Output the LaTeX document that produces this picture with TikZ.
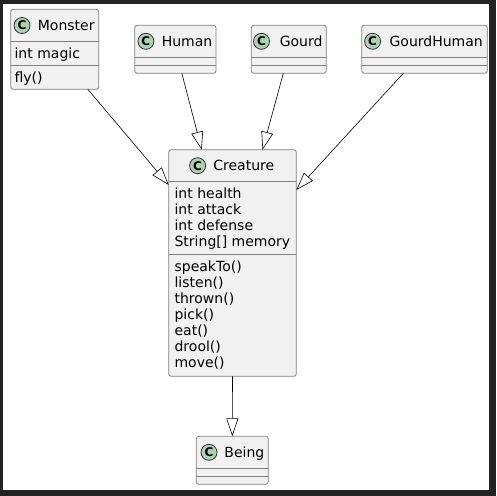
\documentclass[tikz,border=0pt]{standalone}
\usepackage{fontspec}
\setmainfont{DejaVu Sans}
\usetikzlibrary{arrows.meta,calc}
\definecolor{frame}{HTML}{222222}
\definecolor{boxfill}{HTML}{F1F1F1}
\definecolor{boxline}{HTML}{808080}
\definecolor{circline}{HTML}{333333}
\definecolor{circfill}{HTML}{ADD1B2}
\tikzset{
 umlbox/.style={draw=boxline, line width=0.8pt, fill=boxfill, rounded corners=2.5pt, inner sep=0pt, outer sep=0pt, anchor=north west},
 sepline/.style={draw=boxline, line width=0.8pt},
 circ/.style={circle, draw=circline, line width=0.8pt, fill=circfill, minimum size=16pt, inner sep=0pt, font=\fontsize{12pt}{12pt}\selectfont\bfseries},
 title/.style={anchor=base west, inner sep=0pt, font=\fontsize{14pt}{16pt}\selectfont},
 member/.style={anchor=base west, inner sep=0pt, font=\fontsize{14pt}{16pt}\selectfont},
 inherit/.style={draw=black, line width=0.6pt, -{Triangle[open, fill=white, length=18pt, width=12pt]}},
}
\newcommand\umlhdr[5]{% id, name, circle x, text x, header center y
  \node[circ] (#1c) at (#3,#5) {C};
  \node[title] (#1t) at (#4,{#5+4.8}) {#2};
}
\begin{document}
\begin{tikzpicture}[x=1pt,y=-1pt]
\useasboundingbox (0,0) rectangle (496,496);
\fill[frame] (0,0) rectangle (496,496);
\fill[white] (3,4) rectangle (489,490);

% boxes
\node[umlbox, minimum width=88pt, minimum height=80pt] (monster) at (10.7,9.3) {};
\node[umlbox, minimum width=81.3pt, minimum height=48pt] (human) at (134.7,25.3) {};
\node[umlbox, minimum width=75pt, minimum height=48pt] (gourd) at (251.3,25.3) {};
\node[umlbox, minimum width=125.6pt, minimum height=48pt] (gourdhuman) at (361.7,25.3) {};
\node[umlbox, minimum width=127.6pt, minimum height=226.6pt] (creature) at (168.7,149.7) {};
\node[umlbox, minimum width=72pt, minimum height=48pt] (being) at (196.3,436.3) {};

% separators
\draw[sepline] (10.7,41.7) -- (98.7,41.7);
\draw[sepline] (10.7,65.7) -- (98.7,65.7);
\draw[sepline] (134.7,57.3) -- (216,57.3);
\draw[sepline] (134.7,65.3) -- (216,65.3);
\draw[sepline] (251.3,57.3) -- (326.3,57.3);
\draw[sepline] (251.3,65.3) -- (326.3,65.3);
\draw[sepline] (361.7,57.3) -- (487.3,57.3);
\draw[sepline] (361.7,65.3) -- (487.3,65.3);
\draw[sepline] (168.7,181.7) -- (296.3,181.7);
\draw[sepline] (168.7,254.7) -- (296.3,254.7);
\draw[sepline] (196.3,468.3) -- (268.3,468.3);
\draw[sepline] (196.3,476.3) -- (268.3,476.3);

% headers
\umlhdr{mo}{Monster}{22}{37.7}{25.5}
\umlhdr{hu}{Human}{145.9}{161.6}{41.3}
\umlhdr{go}{Gourd}{261.5}{279.6}{41.3}
\umlhdr{gh}{GourdHuman}{372.6}{389.4}{41.3}
\umlhdr{cr}{Creature}{197.6}{213.2}{165.7}
\umlhdr{be}{Being}{209}{224.2}{452.3}

% members
\node[member] (mo1) at (14.4,58.5) {int magic};
\node[member] (mo2) at (14.4,82.5) {fly()};
\foreach [count=\i] \t in {int health, int attack, int defense, String[] memory}
  \node[member] (cra\i) at (174.4,{182.5+16*\i}) {\t};
\foreach [count=\i] \t in {speakTo(), listen(), thrown(), pick(), eat(), drool(), move()}
  \node[member] (crm\i) at (174.4,{255.5+16*\i}) {\t};

% inheritance arrows
\draw[inherit] ([xshift=33.1pt]monster.south) -- ([yshift=-35.3pt]creature.north west);
\draw[inherit] ([xshift=6.5pt]human.south) -- ([xshift=-30.8pt]creature.north);
\draw[inherit] ([xshift=-5.5pt]gourd.south) -- ([xshift=30pt]creature.north);
\draw[inherit] ([xshift=-21.2pt]gourdhuman.south) -- ([yshift=-40.3pt]creature.north east);
\draw[inherit] (creature.south) -- (being.north);
\end{tikzpicture}
\end{document}
